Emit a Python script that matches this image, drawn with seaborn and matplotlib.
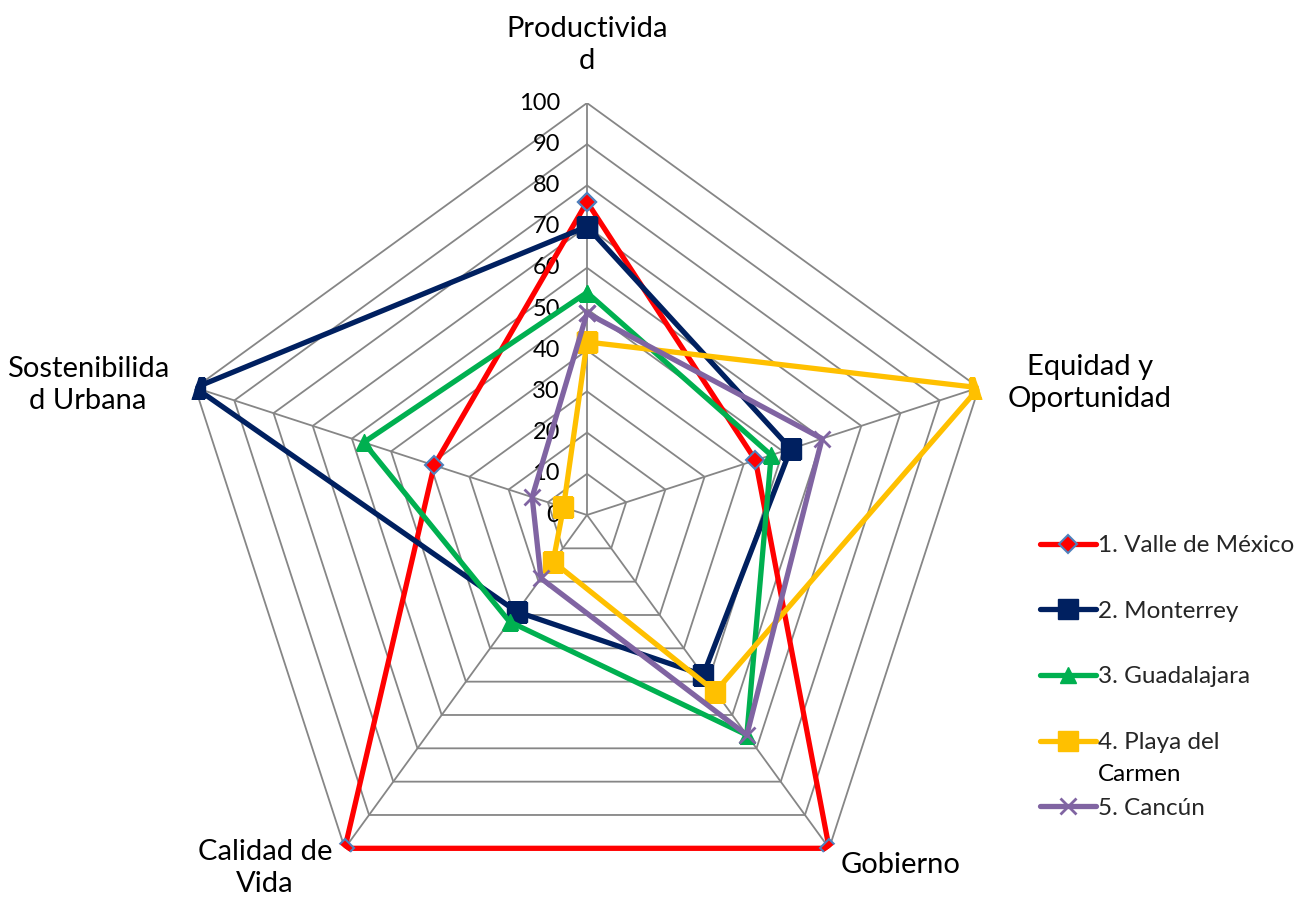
import numpy as np
import pandas as pd
import matplotlib
matplotlib.use("Agg")
import matplotlib.pyplot as plt
from matplotlib.text import Annotation
import seaborn as sns

# ---------------- data ----------------
categories = ["Productivida\nd", "Equidad y\nOportunidad", "Gobierno",
              "Calidad de\nVida", "Sostenibilida\nd Urbana"]
cities = ["1. Valle de México", "2. Monterrey", "3. Guadalajara",
          "4. Playa del Carmen", "5. Cancún"]
legend_labels = ["1. Valle de México", "2. Monterrey", "3. Guadalajara",
                 "4. Playa del", "5. Cancún"]
legend_extra = "Carmen"
valle = [76, 43, 100, 100, 39]
monterrey = [70, 52, 48, 29, 100]
guadalajara = [54, 47, 66, 32, 57]
playa = [42, 100, 53, 14, 6]
cancun = [49, 60, 66, 19, 14]
ticks = list(range(0, 101, 10))

series = [valle, monterrey, guadalajara, playa, cancun]
colors = ["#FF0000", "#002060", "#00B050", "#FFC000", "#8064A2"]
markers = ["D", "s", "^", "s", "x"]
msizes = [9, 14, 12, 14, 12]
medges = ["#4F81BD", "#002060", "#00B050", "#FFC000", "#8064A2"]
mews = [1.5, 1, 1, 1, 2]

sns.set_theme(style="white")
plt.rcParams["font.family"] = ["Lato", "DejaVu Sans"]

W, H = 1299, 898
cx, cy, R = 587, 515, 412
fig = plt.figure(figsize=(W / 100, H / 100), dpi=100)
fig.patch.set_facecolor("white")
ax = fig.add_axes([(cx - R) / W, (H - cy - R) / H, 2 * R / W, 2 * R / H],
                  projection="polar")
ax.set_theta_offset(np.pi / 2)
ax.set_theta_direction(-1)
ax.set_ylim(0, 100)
ax.grid(False)
ax.spines["polar"].set_visible(False)
ax.set_xticks([])
ax.set_yticks([])
ax.patch.set_alpha(0)

n = len(categories)
theta = np.linspace(0, 2 * np.pi, n, endpoint=False)
theta_c = np.append(theta, theta[0])

grid_c = "#868686"
for t in ticks[1:]:
    ax.plot(theta_c, [t] * (n + 1), color=grid_c, lw=1.3, zorder=1)
for t in theta:
    ax.plot([t, t], [0, 100], color=grid_c, lw=1.3, zorder=1)

rows = []
for city, vals in zip(cities, series):
    for i, (t, v) in enumerate(zip(theta_c, vals + vals[:1])):
        rows.append({"city": city, "idx": i, "theta": t, "value": v})
df = pd.DataFrame(rows)

for k, city in enumerate(cities):
    d = df[df["city"] == city]
    sns.lineplot(data=d, x="theta", y="value", ax=ax, sort=False, estimator=None,
                 color=colors[k], lw=3.8, marker=markers[k], markersize=msizes[k],
                 markerfacecolor=colors[k], markeredgecolor=medges[k],
                 markeredgewidth=mews[k], label=city, zorder=3 + k * 0.1)
ax.set_xlabel("")
ax.set_ylabel("")
if ax.get_legend() is not None:
    ax.get_legend().remove()
ax.set_ylim(0, 100)

for v in ticks:
    ax.annotate(str(v), xy=(0, v), xytext=(-27, 0), textcoords="offset pixels",
                ha="right", va="center", fontsize=17, color="black", zorder=2)

label_offsets = [(0, 58, "center"), (111, 5, "center"), (11, -17, "left"),
                 (-80, -20, "center"), (-107, 3, "center")]
for t, lab, (dx, dy, ha) in zip(theta, categories, label_offsets):
    ax.annotate(lab, xy=(t, 100), xytext=(dx, dy), textcoords="offset pixels",
                ha=ha, va="center", fontsize=21, color="black",
                linespacing=1.3, annotation_clip=False)

handles, _ = ax.get_legend_handles_labels()
leg = fig.legend(handles[:5], legend_labels, loc="upper left",
                 bbox_to_anchor=(1040 / W, 1 - 535 / H), frameon=False,
                 fontsize=17.5, handlelength=2.3, handletextpad=0.1,
                 labelspacing=1.84, borderpad=0, borderaxespad=0, numpoints=1)
ann = Annotation(legend_extra, xy=(0, 0), xycoords=leg.get_texts()[3],
                 xytext=(0, -11), textcoords="offset pixels", ha="left", va="top",
                 fontsize=17.5, color="black")
ann.set_zorder(10)
fig.add_artist(ann)

fig.canvas.draw()
fig.savefig("out.png", dpi=100, facecolor="white")
